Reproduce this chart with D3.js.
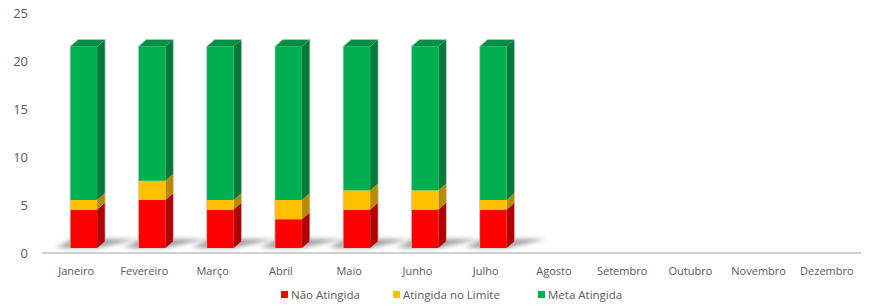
<!DOCTYPE html>
<html>
<head>
<meta charset="utf-8">
<script src="https://cdn.jsdelivr.net/npm/d3@7"></script>
<style>
  body { margin: 0; background: #fff; }
  svg { display: block; font-family: "Open Sans", sans-serif; }
</style>
</head>
<body>
<svg width="870" height="305"></svg>
<script>
// Dados
const meses = ["Janeiro", "Fevereiro", "Março", "Abril", "Maio", "Junho", "Julho",
  "Agosto", "Setembro", "Outubro", "Novembro", "Dezembro"];
const naoAtingida = [4, 5, 4, 3, 4, 4, 4, null, null, null, null, null];
const noLimite = [1, 2, 1, 2, 2, 2, 1, null, null, null, null, null];
const metaAtingida = [16, 14, 16, 16, 15, 15, 16, null, null, null, null, null];
const series = ["Não Atingida", "Atingida no Limite", "Meta Atingida"];
const yTicks = [0, 5, 10, 15, 20, 25];

const front = ["#ff0000", "#ffc000", "#00b050"];
const side = ["#b00000", "#b88a00", "#007a38"];
const topc = ["#d00000", "#d9a300", "#009242"];

const svg = d3.select("svg");

const x = d3.scaleBand().domain(meses).range([42, 861]);
const y = d3.scaleLinear().domain([0, 25]).range([253, 13]);

// Deslocamento 3D
const dx = 8, dy = -7, lift = 5;
const fl = -6, fr = 21; // face frontal relativa ao centro da banda

// Sombra
const defs = svg.append("defs");
defs.append("filter").attr("id", "blur")
  .attr("x", "-50%").attr("y", "-200%").attr("width", "200%").attr("height", "500%")
  .append("feGaussianBlur").attr("stdDeviation", "3 2");

// Eixo Y (apenas rótulos)
svg.append("g")
  .selectAll("text")
  .data(yTicks)
  .join("text")
  .attr("x", 28)
  .attr("y", d => y(d))
  .attr("dy", "0.35em")
  .attr("text-anchor", "end")
  .style("font-size", "13px")
  .style("fill", "#595959")
  .text(d => d);

// Linha do eixo
svg.append("line")
  .attr("x1", 42).attr("x2", 861)
  .attr("y1", 253).attr("y2", 253)
  .style("stroke", "#d0d0d0").style("stroke-width", 2);

// Rótulos do eixo X
svg.append("g")
  .selectAll("text")
  .data(meses)
  .join("text")
  .attr("x", d => x(d) + x.bandwidth() / 2)
  .attr("y", 271)
  .attr("dy", "0.35em")
  .attr("text-anchor", "middle")
  .style("font-size", "11px")
  .style("fill", "#595959")
  .text(d => d);

// Empilhar
const stacks = meses.map((m, i) => {
  const vals = [naoAtingida[i], noLimite[i], metaAtingida[i]];
  if (vals[0] == null) return null;
  let acc = 0;
  return vals.map((v, k) => {
    const s = { mes: m, k, y0: acc, y1: acc + v };
    acc += v;
    return s;
  });
}).filter(d => d);

// Sombras
svg.append("g")
  .selectAll("path")
  .data(stacks)
  .join("path")
  .attr("filter", "url(#blur)")
  .attr("d", s => {
    const c = x(s[0].mes) + x.bandwidth() / 2;
    const b = y(0) - lift;
    return `M${c - 20},${b} L${c + fr},${b} L${c + fr + 40},${b - 9} L${c - 4},${b - 9} Z`;
  })
  .style("fill", "#7a7a7a")
  .style("opacity", 0.7);

// Barras
const bars = svg.append("g")
  .selectAll("g")
  .data(stacks)
  .join("g");

bars.selectAll("path.side")
  .data(s => s)
  .join("path")
  .attr("class", "side")
  .attr("d", d => {
    const c = x(d.mes) + x.bandwidth() / 2;
    const t = y(d.y1) - lift, b = y(d.y0) - lift;
    return `M${c + fr},${b} L${c + fr + dx},${b + dy} L${c + fr + dx},${t + dy} L${c + fr},${t} Z`;
  })
  .style("fill", d => side[d.k]);

bars.selectAll("rect.front")
  .data(s => s)
  .join("rect")
  .attr("class", "front")
  .attr("x", d => x(d.mes) + x.bandwidth() / 2 + fl)
  .attr("y", d => y(d.y1) - lift)
  .attr("width", fr - fl)
  .attr("height", d => y(d.y0) - y(d.y1))
  .style("fill", d => front[d.k]);

// Topo
bars.append("path")
  .attr("d", s => {
    const d = s[s.length - 1];
    const c = x(d.mes) + x.bandwidth() / 2;
    const t = y(d.y1) - lift;
    return `M${c + fl},${t} L${c + fl + dx},${t + dy} L${c + fr + dx},${t + dy} L${c + fr},${t} Z`;
  })
  .style("fill", topc[2]);

// Contorno suave
bars.append("path")
  .attr("d", s => {
    const d = s[s.length - 1];
    const c = x(d.mes) + x.bandwidth() / 2;
    const t = y(d.y1) - lift, b = y(0) - lift;
    return `M${c + fl},${b} L${c + fl},${t} L${c + fl + dx},${t + dy} L${c + fr + dx},${t + dy} L${c + fr + dx},${b + dy}`;
  })
  .style("fill", "none")
  .style("stroke", "#c8c8c8")
  .style("stroke-width", 0.8);

// Legenda
const legX = [281, 393, 538];
const leg = svg.append("g")
  .selectAll("g")
  .data(series)
  .join("g")
  .attr("transform", (d, i) => `translate(${legX[i]},291)`);

leg.append("rect")
  .attr("width", 7).attr("height", 7)
  .style("fill", (d, i) => front[i]);

leg.append("text")
  .attr("x", 10)
  .attr("y", 3.5)
  .attr("dy", "0.35em")
  .style("font-size", "11.5px")
  .style("fill", "#595959")
  .text(d => d);
</script>
</body>
</html>
